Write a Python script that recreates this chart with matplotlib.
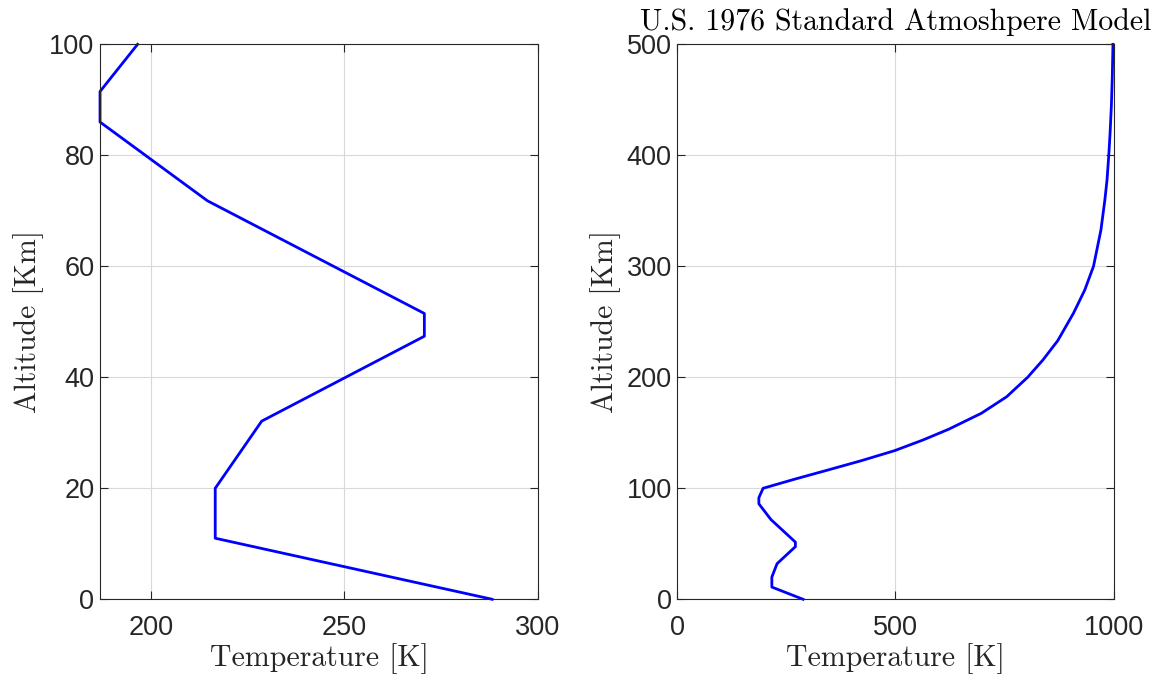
import matplotlib.pyplot as plt

# lower atmosphere (0-100 km)
alt_low = [0, 11.0, 20.0, 32.1, 47.4, 51.5, 71.8, 86.0, 91.5, 100.0]
temp_low = [288.15, 216.65, 216.65, 228.65, 270.65, 270.65, 214.65, 186.9, 186.9, 196.6]

# thermosphere part of the right panel (above 100 km)
alt_high = [108.1, 115.9, 124.9, 133.9, 143.5, 153.2, 167.6, 182.5, 200, 215.6,
            233, 257.7, 278.7, 300, 332.7, 359.7, 377.8, 400, 420, 445, 470, 500]
temp_high = [268, 340, 422, 498, 563, 622, 697, 755, 803, 838,
             872, 908, 934, 954, 971, 980, 985, 989, 992, 995, 997, 998.6]

alt_all = alt_low + alt_high
temp_all = temp_low + temp_high

GRAY = "#262626"
plt.rcParams["axes.edgecolor"] = GRAY
plt.rcParams["xtick.color"] = GRAY
plt.rcParams["ytick.color"] = GRAY
plt.rcParams["font.family"] = ["Liberation Sans", "DejaVu Sans"]

fig = plt.figure(figsize=(11.63, 6.82), dpi=100)
ax1 = fig.add_axes([0.086, 0.1213, 0.3766, 0.8137])
ax2 = fig.add_axes([0.5824, 0.1213, 0.3751, 0.8137])


def style(ax):
    ax.grid(True, color="#d9d9d9", linewidth=0.8)
    ax.set_axisbelow(True)
    ax.tick_params(direction="in", length=6, width=0.8, labelsize=19.5,
                   top=True, right=True)
    ax.tick_params(axis="x", pad=11)
    ax.tick_params(axis="y", pad=4)
    for s in ax.spines.values():
        s.set_linewidth(0.8)
    ax.set_xlabel("Temperature [K]", fontfamily="cmr10", fontsize=21.5, color=GRAY, labelpad=2)
    ax.set_ylabel("Altitude [Km]", fontfamily="cmr10", fontsize=21.5, color=GRAY, labelpad=4)


ax1.plot(temp_low, alt_low, color="#0000ff", linewidth=2, clip_on=False)
ax1.set_xlim(186.9, 300)
ax1.set_ylim(0, 100)
ax1.set_xticks([200, 250, 300])
ax1.set_yticks(range(0, 101, 20))
style(ax1)

ax2.plot(temp_all, alt_all, color="#0000ff", linewidth=2, clip_on=False)
ax2.set_xlim(0, 1000)
ax2.set_ylim(0, 500)
ax2.set_xticks([0, 500, 1000])
ax2.set_yticks(range(0, 501, 100))
style(ax2)
ax2.set_title("U.S. 1976 Standard Atmoshpere Model", fontfamily="cmr10",
              fontsize=21.5, color="black", pad=10)

fig.savefig("out.png", dpi=100)
